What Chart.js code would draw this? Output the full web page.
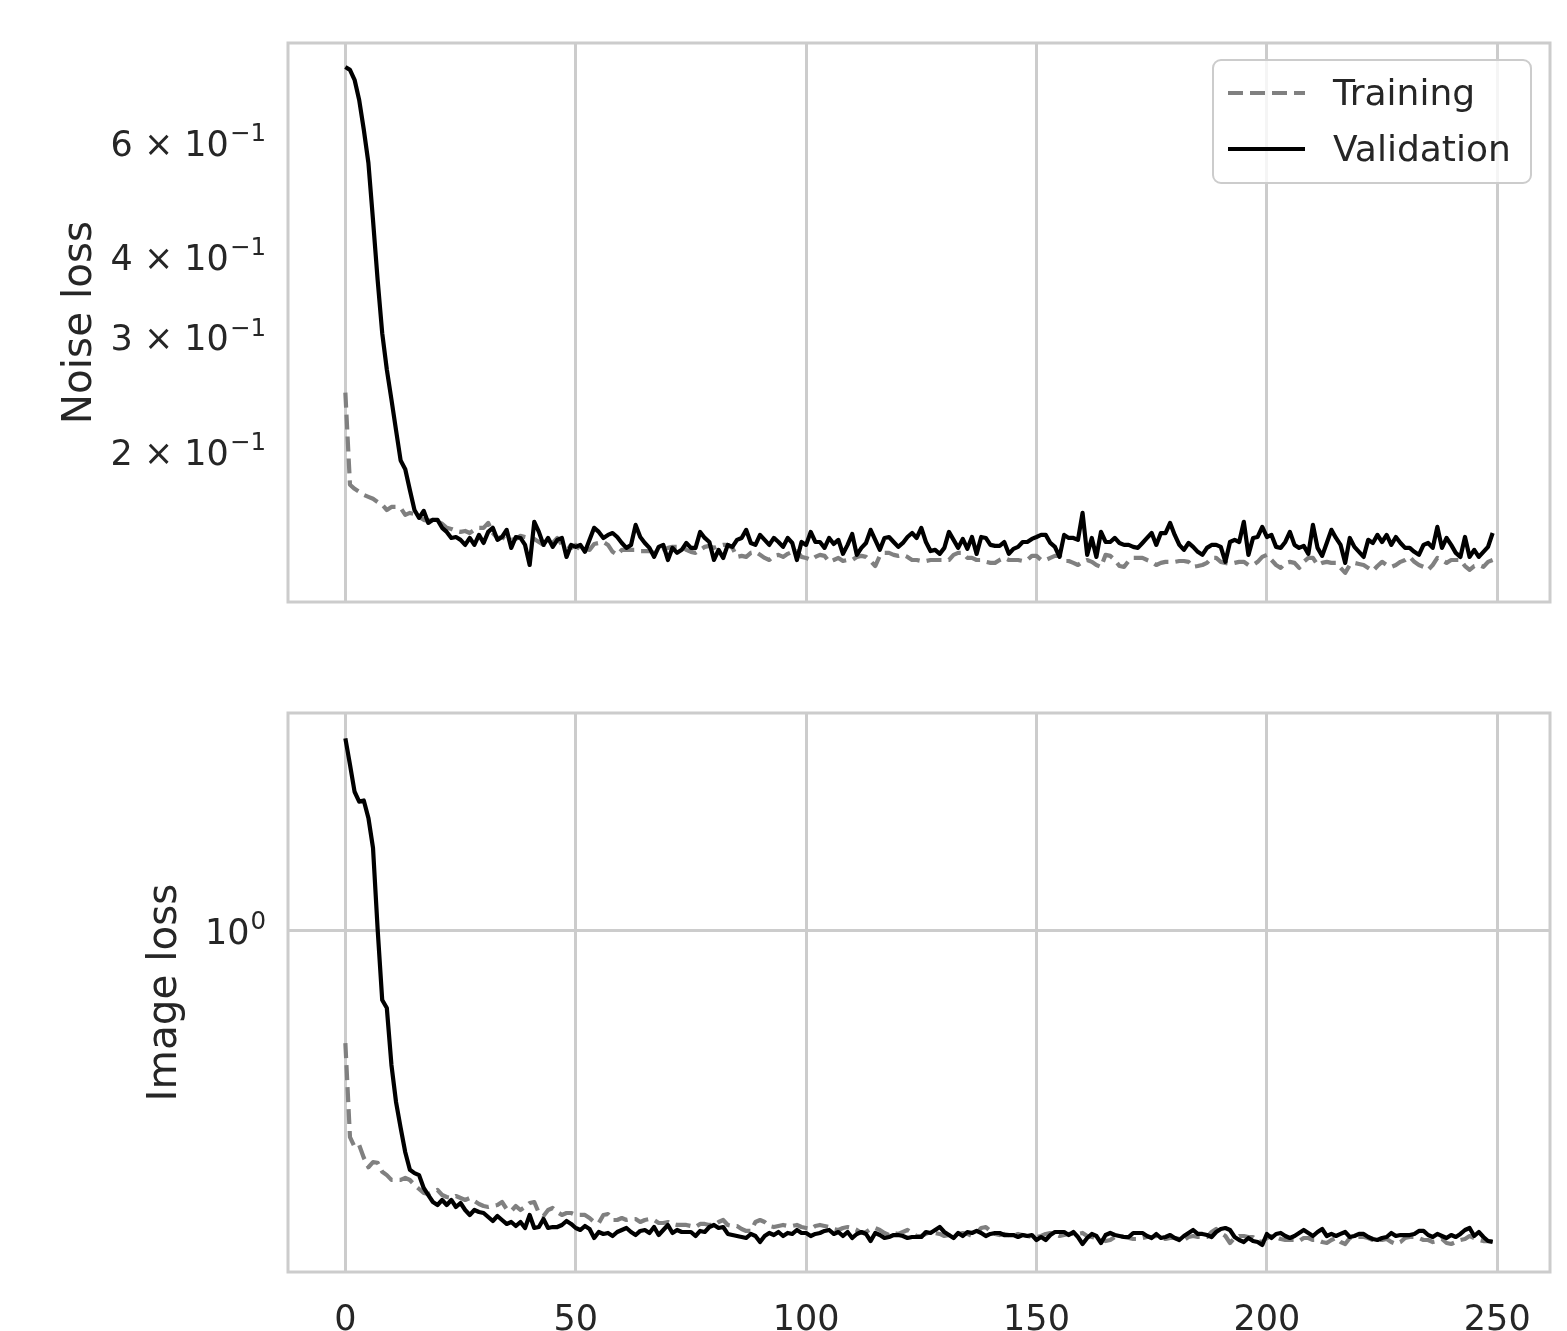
<!DOCTYPE html>
<html>
<head>
<meta charset="utf-8">
<script src="https://cdn.jsdelivr.net/npm/chart.js@4.4.1/dist/chart.umd.min.js"></script>
<style>
  html, body { margin: 0; padding: 0; background: #fff; }
  #wrap { position: relative; width: 1567px; height: 1331px; }
  .panel { position: absolute; left: 0; width: 1567px; }
  #top { top: 0; height: 660px; }
  #bottom { top: 660px; height: 671px; }
</style>
</head>
<body>
<div id="wrap">
  <div class="panel" id="top"><canvas id="noiseChart"></canvas></div>
  <div class="panel" id="bottom"><canvas id="imageChart"></canvas></div>
</div>
<script>
// loss per epoch (0..249)
const epochs = Array.from({ length: 250 }, (_, i) => i);

const noiseTrain = [
  0.247, 0.178, 0.1754, 0.1735, 0.1717, 0.1705, 0.1693, 0.1674, 0.1657, 0.1627, 0.1645, 0.1645, 0.1639, 0.1599, 0.1610,
  0.1604, 0.1588, 0.1571, 0.1565, 0.1571, 0.1560, 0.1549, 0.1527, 0.1521, 0.1510,
  0.1505, 0.1510, 0.1499, 0.1516, 0.1527, 0.1527, 0.1554, 0.1499, 0.1473, 0.1478,
  0.1463, 0.1463, 0.1468, 0.1484, 0.1478, 0.1473, 0.1468, 0.1452, 0.1437, 0.1437,
  0.1447, 0.1473, 0.1437, 0.1437, 0.1422, 0.1437, 0.1412, 0.1417, 0.1412, 0.1442,
  0.1447, 0.1452, 0.1437, 0.1402, 0.1387, 0.1412, 0.1412, 0.1412, 0.1412, 0.1406,
  0.1406, 0.1406, 0.1397, 0.1402, 0.1412, 0.1422, 0.1427, 0.1427, 0.1432, 0.1412,
  0.1402, 0.1397, 0.1412, 0.1427, 0.1432, 0.1422, 0.1432, 0.1437, 0.1437, 0.1422,
  0.1377, 0.1382, 0.1377, 0.1397, 0.1402, 0.1387, 0.1372, 0.1362, 0.1382, 0.1387,
  0.1377, 0.1392, 0.1402, 0.1406, 0.1377, 0.1372, 0.1362, 0.1377, 0.1387, 0.1382,
  0.1353, 0.1362, 0.1372, 0.1357, 0.1362, 0.1362, 0.1377, 0.1382, 0.1377, 0.1357,
  0.1333, 0.1382, 0.1397, 0.1397, 0.1387, 0.1382, 0.1387, 0.1377, 0.1362, 0.1362,
  0.1357, 0.1357, 0.1362, 0.1362, 0.1362, 0.1362, 0.1362, 0.1387, 0.1397, 0.1397,
  0.1372, 0.1372, 0.1362, 0.1362, 0.1353, 0.1348, 0.1348, 0.1362, 0.1372, 0.1362,
  0.1362, 0.1362, 0.1357, 0.1362, 0.1382, 0.1382, 0.1362, 0.1362, 0.1372, 0.1382,
  0.1382, 0.1357, 0.1357, 0.1348, 0.1338, 0.1353, 0.1362, 0.1353, 0.1338, 0.1329,
  0.1387, 0.1382, 0.1362, 0.1333, 0.1329, 0.1357, 0.1372, 0.1372, 0.1372, 0.1362,
  0.1353, 0.1338, 0.1348, 0.1353, 0.1353, 0.1353, 0.1357, 0.1357, 0.1353, 0.1329,
  0.1333, 0.1338, 0.1348, 0.1372, 0.1372, 0.1353, 0.1348, 0.1343, 0.1348, 0.1353,
  0.1353, 0.1338, 0.1338, 0.1353, 0.1377, 0.1387, 0.1362, 0.1338, 0.1324, 0.1348,
  0.1353, 0.1348, 0.1324, 0.1353, 0.1372, 0.1372, 0.1338, 0.1348, 0.1353, 0.1348,
  0.1348, 0.1324, 0.1301, 0.1338, 0.1348, 0.1343, 0.1338, 0.1324, 0.1310, 0.1333,
  0.1353, 0.1338, 0.1329, 0.1338, 0.1353, 0.1362, 0.1377, 0.1353, 0.1338, 0.1329,
  0.1315, 0.1338, 0.1372, 0.1362, 0.1348, 0.1362, 0.1362, 0.1362, 0.1333, 0.1315,
  0.1333, 0.1338, 0.1329, 0.1353, 0.1362
];

const noiseVal = [
  0.786, 0.778, 0.751, 0.699, 0.629, 0.559, 0.456, 0.369, 0.305, 0.268, 0.241, 0.216, 0.194, 0.188, 0.1747,
  0.1627, 0.1582, 0.1622, 0.1554, 0.1571, 0.1571, 0.1527, 0.1505, 0.1473, 0.1478,
  0.1463, 0.1437, 0.1473, 0.1437, 0.1489, 0.1447, 0.1505, 0.1527, 0.1463, 0.1478,
  0.1516, 0.1422, 0.1478, 0.1473, 0.1437, 0.1338, 0.1560, 0.1505, 0.1437, 0.1473,
  0.1427, 0.1463, 0.1473, 0.1377, 0.1437, 0.1427, 0.1437, 0.1402, 0.1463, 0.1527,
  0.1505, 0.1473, 0.1489, 0.1499, 0.1478, 0.1447, 0.1422, 0.1437, 0.1543, 0.1478,
  0.1447, 0.1422, 0.1377, 0.1427, 0.1437, 0.1362, 0.1422, 0.1397, 0.1412, 0.1447,
  0.1422, 0.1422, 0.1505, 0.1473, 0.1452, 0.1362, 0.1412, 0.1372, 0.1437, 0.1427,
  0.1463, 0.1473, 0.1516, 0.1447, 0.1437, 0.1489, 0.1463, 0.1437, 0.1473, 0.1452,
  0.1427, 0.1473, 0.1447, 0.1362, 0.1452, 0.1437, 0.1505, 0.1452, 0.1452, 0.1422,
  0.1473, 0.1442, 0.1463, 0.1392, 0.1437, 0.1494, 0.1387, 0.1422, 0.1447, 0.1516,
  0.1463, 0.1412, 0.1473, 0.1478, 0.1452, 0.1427, 0.1447, 0.1478, 0.1499, 0.1473,
  0.1527, 0.1452, 0.1406, 0.1412, 0.1392, 0.1422, 0.1505, 0.1463, 0.1422, 0.1468,
  0.1417, 0.1478, 0.1392, 0.1478, 0.1473, 0.1437, 0.1432, 0.1432, 0.1452, 0.1392,
  0.1417, 0.1427, 0.1452, 0.1452, 0.1468, 0.1478, 0.1489, 0.1489, 0.1447, 0.1427,
  0.1377, 0.1489, 0.1473, 0.1473, 0.1463, 0.1610, 0.1387, 0.1473, 0.1377, 0.1505,
  0.1452, 0.1452, 0.1473, 0.1447, 0.1437, 0.1437, 0.1427, 0.1422, 0.1447, 0.1473,
  0.1499, 0.1437, 0.1499, 0.1499, 0.1554, 0.1489, 0.1437, 0.1412, 0.1447, 0.1427,
  0.1402, 0.1387, 0.1422, 0.1437, 0.1437, 0.1427, 0.1353, 0.1452, 0.1463, 0.1452,
  0.1560, 0.1387, 0.1473, 0.1478, 0.1532, 0.1478, 0.1489, 0.1427, 0.1422, 0.1452,
  0.1505, 0.1437, 0.1422, 0.1432, 0.1392, 0.1543, 0.1422, 0.1382, 0.1447, 0.1516,
  0.1473, 0.1437, 0.1348, 0.1473, 0.1427, 0.1402, 0.1377, 0.1463, 0.1447, 0.1489,
  0.1452, 0.1489, 0.1437, 0.1478, 0.1447, 0.1422, 0.1422, 0.1402, 0.1387, 0.1437,
  0.1447, 0.1422, 0.1532, 0.1422, 0.1473, 0.1437, 0.1397, 0.1377, 0.1478, 0.1377,
  0.1412, 0.1377, 0.1402, 0.1427, 0.1499
];

const imageTrain = [
  0.584, 0.372, 0.355, 0.358, 0.337, 0.322, 0.330, 0.329, 0.315, 0.310, 0.303, 0.303, 0.303, 0.306, 0.3029,
  0.2957, 0.2901, 0.2846, 0.2832, 0.2859, 0.2887, 0.2818, 0.2791, 0.2778, 0.2805,
  0.2778, 0.2752, 0.2778, 0.2738, 0.2699, 0.2673, 0.2661, 0.2673, 0.2686, 0.2725,
  0.2635, 0.2610, 0.2673, 0.2623, 0.2661, 0.2712, 0.2725, 0.2585, 0.2548, 0.2623,
  0.2648, 0.2598, 0.2561, 0.2585, 0.2585, 0.2561, 0.2561, 0.2561, 0.2524, 0.2476,
  0.2464, 0.2561, 0.2573, 0.2500, 0.2500, 0.2524, 0.2500, 0.2512, 0.2512, 0.2476,
  0.2500, 0.2512, 0.2500, 0.2464, 0.2464, 0.2476, 0.2453, 0.2441, 0.2441, 0.2441,
  0.2429, 0.2417, 0.2453, 0.2453, 0.2441, 0.2441, 0.2476, 0.2500, 0.2441, 0.2429,
  0.2429, 0.2394, 0.2372, 0.2372, 0.2476, 0.2500, 0.2476, 0.2429, 0.2417, 0.2429,
  0.2441, 0.2429, 0.2429, 0.2441, 0.2417, 0.2406, 0.2394, 0.2429, 0.2441, 0.2429,
  0.2417, 0.2394, 0.2383, 0.2406, 0.2417, 0.2406, 0.2383, 0.2349, 0.2360, 0.2394,
  0.2406, 0.2383, 0.2349, 0.2326, 0.2349, 0.2338, 0.2360, 0.2383, 0.2349, 0.2315,
  0.2315, 0.2338, 0.2360, 0.2349, 0.2338, 0.2315, 0.2326, 0.2315, 0.2338, 0.2349,
  0.2338, 0.2315, 0.2349, 0.2406, 0.2417, 0.2372, 0.2338, 0.2326, 0.2338, 0.2326,
  0.2326, 0.2338, 0.2326, 0.2315, 0.2304, 0.2304, 0.2315, 0.2338, 0.2349, 0.2338,
  0.2315, 0.2326, 0.2338, 0.2338, 0.2338, 0.2349, 0.2315, 0.2304, 0.2293, 0.2271,
  0.2260, 0.2271, 0.2304, 0.2315, 0.2304, 0.2293, 0.2282, 0.2282, 0.2293, 0.2304,
  0.2304, 0.2315, 0.2304, 0.2282, 0.2293, 0.2293, 0.2282, 0.2271, 0.2304, 0.2315,
  0.2304, 0.2304, 0.2304, 0.2360, 0.2394, 0.2349, 0.2315, 0.2239, 0.2293, 0.2315,
  0.2315, 0.2304, 0.2304, 0.2260, 0.2249, 0.2293, 0.2315, 0.2304, 0.2282, 0.2271,
  0.2271, 0.2271, 0.2260, 0.2293, 0.2293, 0.2271, 0.2271, 0.2249, 0.2239, 0.2271,
  0.2293, 0.2249, 0.2228, 0.2293, 0.2304, 0.2304, 0.2304, 0.2293, 0.2271, 0.2271,
  0.2271, 0.2282, 0.2249, 0.2228, 0.2249, 0.2293, 0.2304, 0.2304, 0.2293, 0.2271,
  0.2271, 0.2249, 0.2260, 0.2282, 0.2239, 0.2228, 0.2249, 0.2271, 0.2282, 0.2315,
  0.2293, 0.2271, 0.2260, 0.2260, 0.2260
];

const imageVal = [
  2.52, 2.22, 1.95, 1.86, 1.87, 1.72, 1.49, 1.01, 0.718, 0.691, 0.526, 0.440, 0.389, 0.346, 0.318,
  0.313, 0.310, 0.2915, 0.2818, 0.2725, 0.2686, 0.2752, 0.2686, 0.2752, 0.2661,
  0.2712, 0.2623, 0.2561, 0.2623, 0.2598, 0.2585, 0.2536, 0.2488, 0.2548, 0.2500,
  0.2453, 0.2476, 0.2429, 0.2476, 0.2406, 0.2561, 0.2406, 0.2417, 0.2512, 0.2406,
  0.2417, 0.2417, 0.2441, 0.2488, 0.2453, 0.2406, 0.2383, 0.2429, 0.2394, 0.2293,
  0.2360, 0.2338, 0.2349, 0.2315, 0.2360, 0.2383, 0.2406, 0.2360, 0.2326, 0.2372,
  0.2383, 0.2349, 0.2417, 0.2326, 0.2383, 0.2441, 0.2349, 0.2383, 0.2360, 0.2360,
  0.2360, 0.2315, 0.2372, 0.2360, 0.2417, 0.2441, 0.2406, 0.2417, 0.2338, 0.2326,
  0.2315, 0.2304, 0.2293, 0.2338, 0.2315, 0.2249, 0.2315, 0.2349, 0.2326, 0.2360,
  0.2315, 0.2349, 0.2338, 0.2383, 0.2349, 0.2349, 0.2315, 0.2338, 0.2349, 0.2372,
  0.2383, 0.2338, 0.2360, 0.2315, 0.2360, 0.2293, 0.2338, 0.2360, 0.2338, 0.2260,
  0.2349, 0.2326, 0.2293, 0.2304, 0.2326, 0.2326, 0.2315, 0.2293, 0.2304, 0.2304,
  0.2304, 0.2360, 0.2349, 0.2383, 0.2417, 0.2360, 0.2326, 0.2293, 0.2349, 0.2315,
  0.2360, 0.2349, 0.2372, 0.2349, 0.2315, 0.2338, 0.2349, 0.2349, 0.2326, 0.2326,
  0.2326, 0.2304, 0.2326, 0.2315, 0.2326, 0.2271, 0.2304, 0.2271, 0.2326, 0.2360,
  0.2360, 0.2360, 0.2326, 0.2360, 0.2304, 0.2228, 0.2293, 0.2338, 0.2315, 0.2239,
  0.2326, 0.2349, 0.2326, 0.2315, 0.2304, 0.2304, 0.2349, 0.2349, 0.2349, 0.2315,
  0.2293, 0.2338, 0.2293, 0.2304, 0.2326, 0.2293, 0.2271, 0.2315, 0.2349, 0.2383,
  0.2338, 0.2338, 0.2326, 0.2304, 0.2360, 0.2394, 0.2406, 0.2383, 0.2304, 0.2271,
  0.2249, 0.2293, 0.2260, 0.2249, 0.2218, 0.2338, 0.2293, 0.2338, 0.2349, 0.2315,
  0.2293, 0.2315, 0.2349, 0.2383, 0.2349, 0.2315, 0.2360, 0.2394, 0.2315, 0.2338,
  0.2315, 0.2338, 0.2360, 0.2304, 0.2315, 0.2338, 0.2338, 0.2304, 0.2282, 0.2271,
  0.2293, 0.2304, 0.2349, 0.2315, 0.2326, 0.2326, 0.2326, 0.2338, 0.2372, 0.2372,
  0.2326, 0.2304, 0.2338, 0.2315, 0.2293, 0.2326, 0.2304, 0.2338, 0.2383, 0.2406,
  0.2315, 0.2360, 0.2304, 0.2260, 0.2249
];

// axis ticks and limits
const xTicks = [0, 50, 100, 150, 200, 250];
const xRange = [-12.45, 261.45];
const noiseTicks = [0.2, 0.3, 0.4, 0.6];
const noiseTickLabels = [['2 × 10', '−1'], ['3 × 10', '−1'], ['4 × 10', '−1'], ['6 × 10', '−1']];
const noiseRange = [0.1173, 0.856];
const imageTicks = [1];
const imageTickLabels = [['10', '0']];
const imageRange = [0.1948, 2.845];

const FONT = "'DejaVu Sans', sans-serif";
const INK = '#262626';
const GRID = '#cccccc';
const TICK_SIZE = 35;

Chart.defaults.font.family = FONT;
Chart.defaults.color = INK;

// light grey box around the plot area, drawn over the lines like mpl spines
const framePlugin = {
  id: 'frame',
  afterDatasetsDraw(chart) {
    const { ctx, chartArea: a } = chart;
    ctx.save();
    ctx.strokeStyle = GRID;
    ctx.lineWidth = 3;
    ctx.strokeRect(a.left, a.top, a.right - a.left, a.bottom - a.top);
    ctx.restore();
  }
};

// y tick labels written as base + raised exponent
const powerTicks = {
  id: 'powerTicks',
  afterDraw(chart, args, opts) {
    const { ctx } = chart;
    const s = chart.scales.y;
    const supSize = TICK_SIZE * 0.7;
    ctx.save();
    ctx.fillStyle = INK;
    ctx.textBaseline = 'alphabetic';
    ctx.textAlign = 'left';
    opts.ticks.forEach((v, i) => {
      const [base, sup] = opts.labels[i];
      const py = s.getPixelForValue(v);
      ctx.font = TICK_SIZE + 'px ' + FONT;
      const wb = ctx.measureText(base).width;
      ctx.font = supSize + 'px ' + FONT;
      const ws = ctx.measureText(sup).width;
      const x0 = s.right - 22 - ws - wb - 1;
      const baseY = py + TICK_SIZE * 0.36;
      ctx.font = TICK_SIZE + 'px ' + FONT;
      ctx.fillText(base, x0, baseY);
      ctx.font = supSize + 'px ' + FONT;
      ctx.fillText(sup, x0 + wb + 1, baseY - TICK_SIZE * 0.42);
    });
    ctx.restore();
  }
};

// legend box in the upper right corner of the plot area
const boxLegend = {
  id: 'boxLegend',
  afterDraw(chart) {
    const { ctx, chartArea: a } = chart;
    const w = 318, h = 123;
    const x = a.right - 19 - w, y = a.top + 17;
    ctx.save();
    ctx.beginPath();
    ctx.roundRect(x, y, w, h, 8);
    ctx.fillStyle = 'rgba(255,255,255,0.8)';
    ctx.fill();
    ctx.strokeStyle = GRID;
    ctx.lineWidth = 2;
    ctx.stroke();
    chart.data.datasets.forEach((ds, i) => {
      const cy = y + 33 + i * 56;
      ctx.strokeStyle = ds.borderColor;
      ctx.lineWidth = ds.borderWidth;
      ctx.setLineDash(ds.borderDash || []);
      ctx.beginPath();
      ctx.moveTo(x + 15, cy);
      ctx.lineTo(x + 92, cy);
      ctx.stroke();
      ctx.setLineDash([]);
      ctx.fillStyle = INK;
      ctx.font = '36px ' + FONT;
      ctx.textBaseline = 'middle';
      ctx.fillText(ds.label, x + 120, cy + 3);
    });
    ctx.restore();
  }
};

function series(train, val) {
  return [
    {
      label: 'Training',
      data: epochs.map((e, i) => ({ x: e, y: train[i] })),
      borderColor: '#808080',
      borderWidth: 4.2,
      borderDash: [15, 7],
      borderJoinStyle: 'round',
      pointRadius: 0,
      tension: 0,
      order: 1
    },
    {
      label: 'Validation',
      data: epochs.map((e, i) => ({ x: e, y: val[i] })),
      borderColor: '#000000',
      borderWidth: 4.2,
      borderJoinStyle: 'round',
      pointRadius: 0,
      tension: 0,
      order: 0
    }
  ];
}

function makePanel(id, opts) {
  return new Chart(document.getElementById(id), {
    type: 'line',
    data: { datasets: series(opts.train, opts.val) },
    plugins: opts.plugins,
    options: {
      responsive: true,
      maintainAspectRatio: false,
      devicePixelRatio: 1,
      animation: false,
      layout: { padding: { left: 0, right: 17, top: opts.padTop, bottom: 0 } },
      plugins: {
        legend: { display: false },
        tooltip: { enabled: false },
        powerTicks: { ticks: opts.ticks, labels: opts.tickLabels }
      },
      scales: {
        x: {
          type: 'linear',
          min: xRange[0],
          max: xRange[1],
          afterBuildTicks: s => { s.ticks = xTicks.map(v => ({ value: v })); },
          afterFit: s => { s.height = opts.xHeight; },
          grid: { color: GRID, lineWidth: 3, drawTicks: false },
          border: { display: false },
          ticks: {
            display: opts.showX,
            autoSkip: false,
            maxRotation: 0,
            padding: 28,
            color: INK,
            font: { size: TICK_SIZE }
          }
        },
        y: {
          type: 'logarithmic',
          min: opts.range[0],
          max: opts.range[1],
          afterBuildTicks: s => { s.ticks = opts.ticks.map(v => ({ value: v })); },
          afterFit: s => { s.width = 288; },
          grid: { display: opts.yGrid, color: GRID, lineWidth: 3, drawTicks: false },
          border: { display: false },
          ticks: { display: false, autoSkip: false },
          title: {
            display: true,
            text: opts.label,
            color: INK,
            font: { size: 40.5 },
            padding: { top: opts.titlePad, bottom: 0 }
          }
        }
      }
    }
  });
}

makePanel('noiseChart', {
  train: noiseTrain, val: noiseVal,
  range: noiseRange, ticks: noiseTicks, tickLabels: noiseTickLabels,
  label: 'Noise loss', titlePad: 56, yGrid: false,
  padTop: 43, xHeight: 58, showX: false,
  plugins: [framePlugin, powerTicks, boxLegend]
});

makePanel('imageChart', {
  train: imageTrain, val: imageVal,
  range: imageRange, ticks: imageTicks, tickLabels: imageTickLabels,
  label: 'Image loss', titlePad: 141, yGrid: true,
  padTop: 53, xHeight: 59, showX: true,
  plugins: [framePlugin, powerTicks]
});
</script>
</body>
</html>
